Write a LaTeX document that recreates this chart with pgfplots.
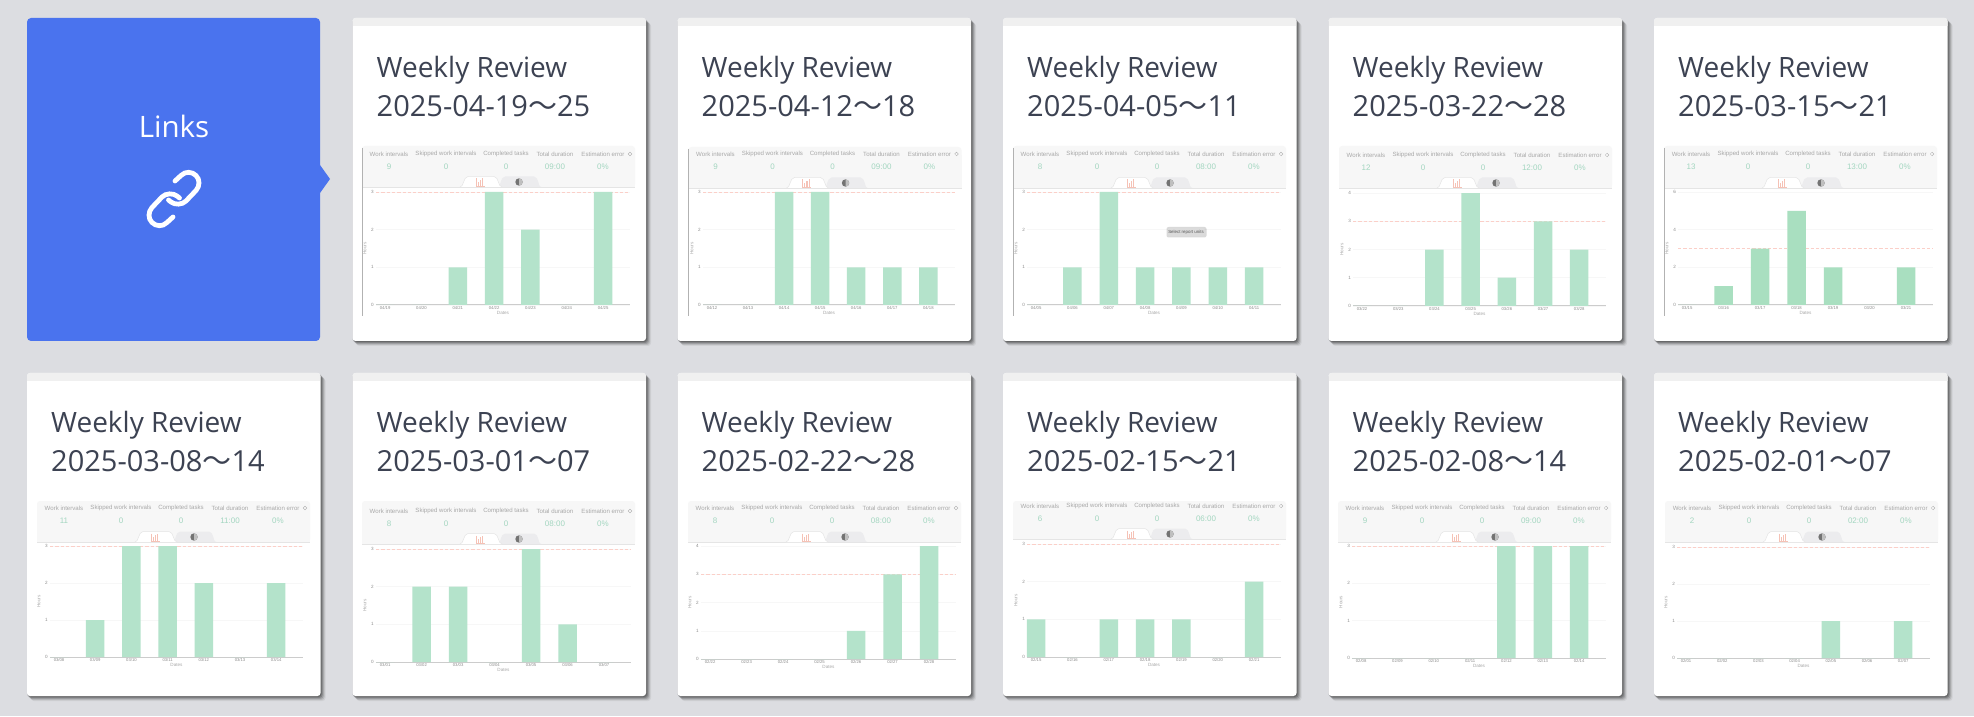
\documentclass[border=0pt]{standalone}
\usepackage{fontspec}
\usepackage{pgfplots}
\pgfplotsset{compat=1.18}
\setmainfont{Liberation Sans}
\newfontfamily\ttl{Open Sans}
\newfontfamily\jp{Noto Sans CJK JP}
\newcommand{\fs}[1]{\fontsize{#1}{#1}\selectfont}
\definecolor{bgc}{HTML}{DCDDE1}
\definecolor{bluec}{HTML}{4A73EE}
\definecolor{titlec}{HTML}{3C4252}
\definecolor{panelc}{HTML}{F7F7F7}
\definecolor{tabc}{HTML}{ECECEE}
\definecolor{hdc}{HTML}{A8A8A8}
\definecolor{valc}{HTML}{A3D6C0}
\definecolor{dashc}{HTML}{FBCFC8}
\definecolor{barc}{HTML}{B4E3CB}
\definecolor{barb}{HTML}{A9DFC0}
\definecolor{iconc}{HTML}{F5C2B6}
\definecolor{tickc}{HTML}{8C8C8C}
\tikzset{px/.style={x=1pt,y=-1pt,shift={(0pt,716pt)}},
 hd/.style={font=\fs{6.1},text=hdc,inner sep=0pt},
 vl/.style={font=\fs{8},text=valc,inner sep=0pt}}
\pgfplotsset{chartstyle/.style={
  scale only axis, anchor=south west, clip=false,
  xmin=-0.25, xmax=6.74, ymin=0, xtick={0,...,6},
  axis x line*=bottom, axis y line*=left,
  y axis line style={draw=none},
  x axis line style={draw=black!20,line width=1pt,-},
  major tick length=0pt, tick style={draw=none},
  ymajorgrids, grid style={draw=black!3,line width=0.5pt},
  /pgf/number format/assume math mode=true,
  xticklabel style={font=\fs{4.2},text=tickc,inner sep=0pt,yshift=-1.2pt},
  yticklabel style={font=\fs{4.6},text=tickc,inner sep=0pt,xshift=-2pt},
  xlabel=Dates, ylabel=Hours,
  xlabel style={at={(axis description cs:0.5,-0.072)},anchor=center,font=\fs{4.6},text=hdc,inner sep=0pt},
  ylabel style={at={(axis description cs:-0.044,0.5)},anchor=center,font=\fs{4.6},text=hdc,inner sep=0pt},
}}
% geometry: panel left, panel top, header y, tab line, plot top, base, plot left, plot right
\newcommand{\geom}[8]{\def\gpl{#1}\def\gpt{#2}\def\ghY{#3}\def\gtab{#4}\def\gtop{#5}\def\gbase{#6}\def\gL{#7}\def\gR{#8}}
\newcommand{\card}[4]{% x, y, line2
  \begin{scope}[px]
  \foreach \i/\o in {5/.06,4/.10,3/.14,2/.18,1/.20}{
    \fill[black,opacity=\o,rounded corners=3pt] (#1+\i-1,#2+\i) rectangle (#1+293.5+\i,#2+323+\i);}
  \fill[white,rounded corners=3pt] (#1,#2) rectangle (#1+293.5,#2+323);
  \begin{scope}
    \clip[rounded corners=3pt] (#1,#2) rectangle (#1+293.5,#2+323);
    \fill[black!6] (#1,#2) rectangle (#1+293.5,#2+8);
  \end{scope}
  \node[anchor=base west,inner sep=0pt,text=titlec] at (#1+24,#2+59.3) {\ttl\fs{28}Weekly Review};
  \node[anchor=base west,inner sep=0pt,text=titlec] at (#1+24,#2+98.3) {\ttl\fs{29}#3{\jp ～}#4};
  \end{scope}}
\newcommand{\chart}[7]{% ymax, yticks, coords, labels, n, time, barcolor
  \pgfmathsetmacro\axW{\gR-\gL}\pgfmathsetmacro\axH{\gbase-\gtop}\pgfmathsetmacro\axY{716-\gbase}
  \begin{scope}[px]
    \fill[panelc,rounded corners=3pt] (\gpl,\gpt) rectangle (\gpl+273,\gtab);
    \fill[panelc] (\gpl,\gpt+8) rectangle (\gpl+273,\gtab);
    \draw[black!10,line width=0.6pt] (\gpl,\gtab) -- (\gpl+273,\gtab);
    \node[hd] at (\gpl+27,\ghY) {Work intervals};
    \node[hd] at (\gpl+84,\ghY) {Skipped work intervals};
    \node[hd] at (\gpl+144,\ghY) {Completed tasks};
    \node[hd] at (\gpl+193,\ghY) {Total duration};
    \node[hd] at (\gpl+241,\ghY) {Estimation error};
    \draw[hdc,line width=0.3pt] (\gpl+268,\ghY) circle (1.8);
    \node[vl] at (\gpl+27,\ghY+13) {#5};
    \node[vl] at (\gpl+84,\ghY+13) {0};
    \node[vl] at (\gpl+144,\ghY+13) {0};
    \node[vl] at (\gpl+193,\ghY+13) {#6};
    \node[vl] at (\gpl+241,\ghY+13) {0\%};
    % tabs
    \fill[tabc] (\gpl+136,\gtab) .. controls (\gpl+139,\gtab) and (\gpl+138,\gtab-10) .. (\gpl+143,\gtab-10.5) -- (\gpl+172,\gtab-10.5) .. controls (\gpl+177,\gtab-10) and (\gpl+176,\gtab) .. (\gpl+179,\gtab) -- cycle;
    \fill[white,draw=black!10,line width=0.5pt] (\gpl+98,\gtab) .. controls (\gpl+102,\gtab) and (\gpl+101,\gtab-10) .. (\gpl+106,\gtab-10.5) -- (\gpl+132,\gtab-10.5) .. controls (\gpl+137,\gtab-10) and (\gpl+136,\gtab) .. (\gpl+140,\gtab);
    % tab icons
    \draw[iconc,line width=0.6pt] (\gpl+114,\gtab-8.5) -- (\gpl+114,\gtab-1) -- (\gpl+122.5,\gtab-1);
    \fill[iconc] (\gpl+115.5,\gtab-5) rectangle (\gpl+116.8,\gtab-1.3);
    \fill[iconc] (\gpl+117.8,\gtab-7) rectangle (\gpl+119.1,\gtab-1.3);
    \fill[iconc] (\gpl+120.1,\gtab-8.5) rectangle (\gpl+121.4,\gtab-1.3);
    \fill[black!55] (\gpl+157,\gtab-5) circle (3.7);
    \begin{scope}
      \clip (\gpl+157,\gtab-10) rectangle (\gpl+162,\gtab);
      \fill[black!25] (\gpl+157,\gtab-5) circle (3.7);
    \end{scope}
  \end{scope}
  \begin{axis}[chartstyle, at={(\gL pt,\axY pt)}, width=\axW pt, height=\axH pt,
    ymax=#1, ytick={#2}, xticklabels={#4}]
    \addplot[dashc,line width=0.9pt,dash pattern=on 3.3pt off 2pt,forget plot] coordinates {(-0.25,3) (6.74,3)};
    \addplot[ybar,bar width=18.5pt,fill=#7,draw=none,forget plot] coordinates {#3};
  \end{axis}}
\newcommand{\leftrule}{\begin{scope}[px]\draw[black!30,line width=0.7pt] (\gpl,\gpt+2) -- (\gpl,\gbase+11);\end{scope}}
\newcommand{\linkpath}{(175,181) -- (181,175.5) .. controls (185.5,171) and (192,171.5) .. (196,175.5) .. controls (200,179.5) and (200,186) .. (196,190.5) -- (186,201) .. controls (182,205) and (175,205) .. (171,202) -- (168.5,200)}
\begin{document}
\begin{tikzpicture}
\fill[bgc] (0pt,0pt) rectangle (1974pt,716pt);
\path[use as bounding box] (0pt,0pt) rectangle (1974pt,716pt);
% blue card
\begin{scope}[px]
  \fill[bluec,rounded corners=4pt] (27,18) rectangle (320,341);
  \fill[bluec] (319,165) -- (320,165) -- (330,179) -- (320,193) -- (319,193) -- cycle;
  \node[anchor=base,inner sep=0pt,text=white] at (174,138) {\ttl\fs{29.5}Links};
  \draw[white,line width=4.8pt,line cap=round] \linkpath;
  \begin{scope}[rotate around={180:(174,199)}]
    \draw[white,line width=4.8pt,line cap=round] \linkpath;
  \end{scope}
\end{scope}
% cards
\card{352.5}{18}{2025-04-19}{25}
\card{677.5}{18}{2025-04-12}{18}
\card{1003}{18}{2025-04-05}{11}
\card{1328.5}{18}{2025-03-22}{28}
\card{1654}{18}{2025-03-15}{21}
\card{27}{373}{2025-03-08}{14}
\card{352.5}{373}{2025-03-01}{07}
\card{677.5}{373}{2025-02-22}{28}
\card{1003}{373}{2025-02-15}{21}
\card{1328.5}{373}{2025-02-08}{14}
\card{1654}{373}{2025-02-01}{07}
% row 1
\geom{362}{146}{154}{187}{192}{305}{376}{630}
\chart{3}{0,1,2,3}{(0,0)(1,0)(2,1)(3,3)(4,2)(5,0)(6,3)}{04/19,04/20,04/21,04/22,04/23,04/24,04/25}{9}{09:00}{barc}\leftrule
\geom{688.5}{147}{154}{188}{192}{305}{703}{955}
\chart{3}{0,1,2,3}{(0,0)(1,0)(2,3)(3,3)(4,1)(5,1)(6,1)}{04/12,04/13,04/14,04/15,04/16,04/17,04/18}{9}{09:00}{barc}\leftrule
\geom{1013}{146}{154}{188}{192}{305}{1027}{1281}
\chart{3}{0,1,2,3}{(0,0)(1,1)(2,3)(3,1)(4,1)(5,1)(6,1)}{04/05,04/06,04/07,04/08,04/09,04/10,04/11}{8}{08:00}{barc}\leftrule
\begin{scope}[px]
  \fill[black,opacity=.15,rounded corners=2pt] (1166.5,227) rectangle (1206.5,237.5);
  \node[fill=black!14,rounded corners=1.5pt,inner sep=0pt,minimum width=37pt,minimum height=8pt,font=\fs{4.4},text=black!65] at (1186,232) {Select report units};
\end{scope}
\geom{1339}{146}{155}{188}{193}{306}{1353}{1606}
\chart{4}{0,1,2,3,4}{(0,0)(1,0)(2,2)(3,4)(4,1)(5,3)(6,2)}{03/22,03/23,03/24,03/25,03/26,03/27,03/28}{12}{12:00}{barc}
\geom{1664}{146}{154}{188}{192}{305}{1678}{1933}
\chart{6}{0,2,4,6}{(0,0)(1,1)(2,3)(3,5)(4,2)(5,0)(6,2)}{03/15,03/16,03/17,03/18,03/19,03/20,03/21}{13}{13:00}{barb}\leftrule
% row 2
\geom{37}{501}{508}{542}{546}{657}{50}{303}
\chart{3}{0,1,2,3}{(0,0)(1,1)(2,3)(3,3)(4,2)(5,0)(6,2)}{03/08,03/09,03/10,03/11,03/12,03/13,03/14}{11}{11:00}{barc}
\geom{362}{501}{511}{544}{549}{662}{376}{631}
\chart{3}{0,1,2,3}{(0,0)(1,2)(2,2)(3,0)(4,3)(5,1)(6,0)}{03/01,03/02,03/03,03/04,03/05,03/06,03/07}{8}{08:00}{barc}
\geom{688}{501}{508}{542}{546}{659}{701}{956}
\chart{4}{0,1,2,3,4}{(0,0)(1,0)(2,0)(3,0)(4,1)(5,3)(6,4)}{02/22,02/23,02/24,02/25,02/26,02/27,02/28}{8}{08:00}{barc}
\geom{1013}{501}{506}{539}{544}{657}{1027}{1281}
\chart{3}{0,1,2,3}{(0,1)(1,0)(2,1)(3,1)(4,1)(5,0)(6,2)}{02/15,02/16,02/17,02/18,02/19,02/20,02/21}{6}{06:00}{barc}
\geom{1338}{501}{508}{542}{546}{658}{1352}{1606}
\chart{3}{0,1,2,3}{(0,0)(1,0)(2,0)(3,0)(4,3)(5,3)(6,3)}{02/08,02/09,02/10,02/11,02/12,02/13,02/14}{9}{09:00}{barc}
\geom{1665}{501}{508}{542}{547}{658}{1677}{1930}
\chart{3}{0,1,2,3}{(0,0)(1,0)(2,0)(3,0)(4,1)(5,0)(6,1)}{02/01,02/02,02/03,02/04,02/05,02/06,02/07}{2}{02:00}{barc}
\end{tikzpicture}
\end{document}
